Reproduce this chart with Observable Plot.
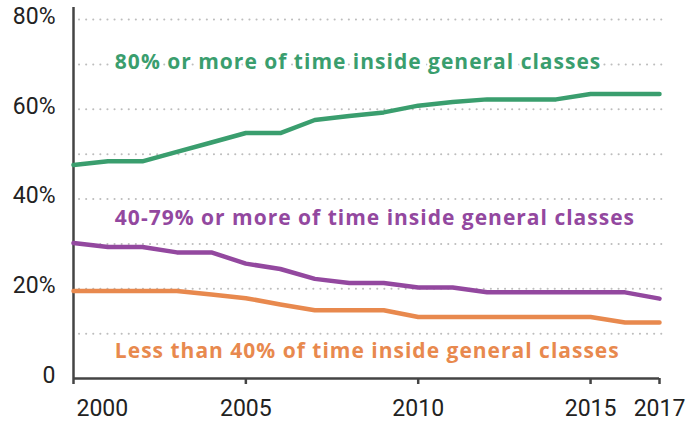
<!DOCTYPE html>
<html>
<head>
<meta charset="utf-8">
<script src="https://cdn.jsdelivr.net/npm/d3@7"></script>
<script src="https://cdn.jsdelivr.net/npm/@observablehq/plot@0.6"></script>
<style>
  html, body { margin: 0; padding: 0; background: #fff; }
  #chart svg { display: block; }
  #chart g[aria-label="text"] text { letter-spacing: 1px; }
</style>
</head>
<body>
<div id="chart"></div>
<script>
const years = [2000, 2001, 2002, 2003, 2004, 2005, 2006, 2007, 2008, 2009, 2010, 2011, 2012, 2013, 2014, 2015, 2016, 2017];
const over80 = [47.6, 48.4, 48.4, 50.5, 52.6, 54.7, 54.7, 57.6, 58.5, 59.3, 60.8, 61.6, 62.2, 62.2, 62.2, 63.4, 63.4, 63.4];
const from40to79 = [30.2, 29.3, 29.3, 28.1, 28.1, 25.6, 24.4, 22.2, 21.3, 21.3, 20.3, 20.3, 19.2, 19.2, 19.2, 19.2, 19.2, 17.8];
const under40 = [19.5, 19.5, 19.5, 19.5, 18.7, 17.9, 16.5, 15.2, 15.2, 15.2, 13.7, 13.7, 13.7, 13.7, 13.7, 13.7, 12.5, 12.5];

const seriesNames = ["over80", "from40to79", "under40"];
const seriesLabels = [
  "80% or more of time inside general classes",
  "40-79% or more of time inside general classes",
  "Less than 40% of time inside general classes"
];
const labelYear = [2001.2, 2001.2, 2001.2];
const labelValue = [70.4, 35.7, 6.0];
const colors = ["#3a9e6e", "#93489f", "#e8894e"];

const yTicks = [0, 20, 40, 60, 80];
const gridValues = [10, 20, 30, 40, 50, 60, 70, 80];
const xTicks = [2000, 2005, 2010, 2015, 2017];

const allValues = [over80, from40to79, under40];
const rows = [];
seriesNames.forEach((s, i) => years.forEach((yr, j) => rows.push({series: s, year: yr, value: allValues[i][j]})));
const labelRows = seriesNames.map((s, i) => ({series: s, text: seriesLabels[i], year: labelYear[i], value: labelValue[i]}));

const tickFont = "Roboto, 'Noto Sans', sans-serif";
const labelFont = "'Open Sans', 'Noto Sans', sans-serif";

const chart = Plot.plot({
  width: 695,
  height: 421,
  marginLeft: 73,
  marginRight: 36,
  marginTop: 7,
  marginBottom: 43,
  style: {fontFamily: tickFont, background: "#fff"},
  x: {domain: [2000, 2017], range: [73, 659], axis: null},
  y: {domain: [0, 80], range: [378, 19], axis: null},
  color: {domain: seriesNames, range: colors},
  marks: [
    Plot.ruleY(gridValues, {stroke: "#bdbdbd", strokeWidth: 2, strokeDasharray: "0.1,7", strokeLinecap: "round", dx: 6}),
    Plot.ruleX([2000], {stroke: "#444", strokeWidth: 2.5}),
    Plot.ruleY([0], {stroke: "#444", strokeWidth: 2.5}),
    Plot.axisX({ticks: xTicks, tickSize: 6, stroke: "#444", strokeWidth: 2.5, tickFormat: () => "", label: null}),
    Plot.axisY({ticks: yTicks, tickSize: 0, tickPadding: 18, fontSize: 23, fill: "#222", label: null,
      tickFormat: d => d === 0 ? "0" : d + "%", dy: -3, fontFamily: tickFont}),
    Plot.axisX({ticks: [2000], tickSize: 0, tickPadding: 21, fontSize: 23, fill: "#222", label: null,
      tickFormat: d => String(d), textAnchor: "start", dx: 3, fontFamily: tickFont}),
    Plot.axisX({ticks: xTicks.slice(1), tickSize: 0, tickPadding: 21, fontSize: 23, fill: "#222", label: null,
      tickFormat: d => String(d), fontFamily: tickFont}),
    Plot.line(rows, {x: "year", y: "value", z: "series", stroke: "series", strokeWidth: 4.5,
      strokeLinecap: "round", strokeLinejoin: "round"}),
    Plot.text(labelRows, {x: "year", y: "value", text: "text", fill: "series", textAnchor: "start",
      fontSize: 21, fontWeight: "bold", fontFamily: labelFont, stroke: "white", strokeWidth: 5})
  ]
});
document.getElementById("chart").appendChild(chart);
</script>
</body>
</html>
